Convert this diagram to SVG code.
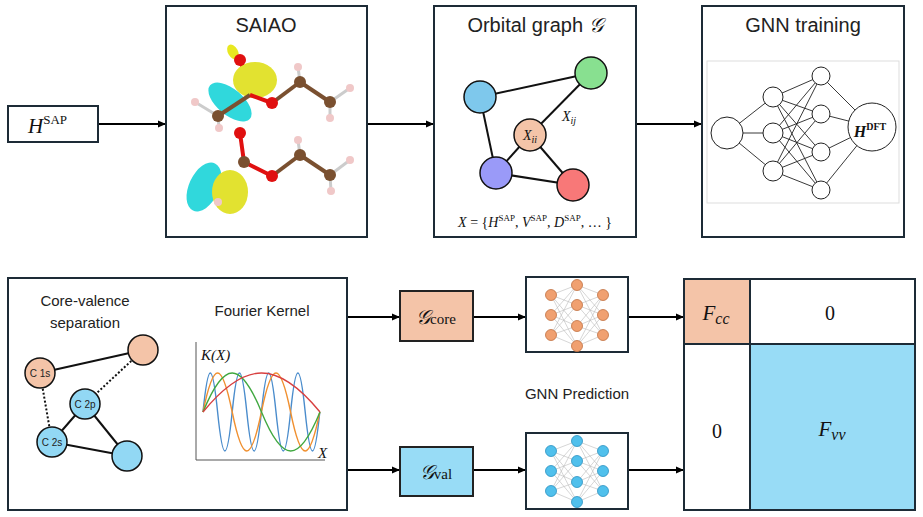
<svg xmlns="http://www.w3.org/2000/svg" width="923" height="517" viewBox="0 0 923 517">
<defs>
<marker id="ar" markerWidth="8" markerHeight="8" refX="7" refY="4" orient="auto" markerUnits="userSpaceOnUse"><path d="M0,0.5 L8,4 L0,7.5 Z" fill="#000"/></marker>
<style>
.box{fill:#fff;stroke:#1d2b36;stroke-width:2}
.t{font-family:"Liberation Sans",Arial,sans-serif;fill:#222}
.m{font-family:"Liberation Serif","Times New Roman",serif;fill:#111}
.c{stroke:#000;stroke-width:1.8;fill:none}
.e{stroke:#111;stroke-width:2}
.n{stroke:#111;stroke-width:1.5}
.nn{stroke:#222;stroke-width:1;fill:#fff}
.nl{stroke:#222;stroke-width:0.9}
.sl{stroke:#bbb;stroke-width:0.6}
.H{fill:#f0c8c8}.C{fill:#7a5030}.O{fill:#e01010}
</style>
</defs>
<rect width="923" height="517" fill="#fff"/>

<g id="connectors">
<line class="c" x1="98" y1="124" x2="165" y2="124" marker-end="url(#ar)"/>
<line class="c" x1="367" y1="124" x2="433" y2="124" marker-end="url(#ar)"/>
<line class="c" x1="636" y1="124" x2="701" y2="124" marker-end="url(#ar)"/>
<line class="c" x1="347" y1="317" x2="399" y2="317" marker-end="url(#ar)"/>
<line class="c" x1="347" y1="470" x2="399" y2="470" marker-end="url(#ar)"/>
<line class="c" x1="473" y1="317" x2="525" y2="317" marker-end="url(#ar)"/>
<line class="c" x1="473" y1="470" x2="525" y2="470" marker-end="url(#ar)"/>
<line class="c" x1="628" y1="317" x2="683" y2="317" marker-end="url(#ar)"/>
<line class="c" x1="628" y1="470" x2="683" y2="470" marker-end="url(#ar)"/>
</g>

<g id="hsap">
<rect class="box" x="8" y="106" width="90" height="36"/>
<text class="m" x="28" y="133" font-size="21" font-style="italic">H<tspan font-style="normal" font-size="13" dy="-9">SAP</tspan></text>
</g>

<g id="saiao">
<rect class="box" x="166" y="6" width="201" height="231"/>
<text class="t" x="266" y="32" font-size="20" text-anchor="middle">SAIAO</text>
<ellipse cx="233" cy="52" rx="5" ry="8" fill="#e8e820" transform="rotate(-30 233 52)"/>
<line x1="240" y1="60" x2="250" y2="88" stroke="#e01010" stroke-width="4"/>
<ellipse cx="255" cy="80" rx="22" ry="18" fill="#e2e230"/>
<ellipse cx="230" cy="102" rx="13" ry="26" fill="#30d8dc" transform="rotate(-50 230 102)"/>
<line x1="218" y1="116" x2="250" y2="95" stroke="#7a5030" stroke-width="4"/>
<line x1="250" y1="95" x2="272" y2="103" stroke="#e01010" stroke-width="4"/>
<line x1="272" y1="103" x2="300" y2="82" stroke="#7a5030" stroke-width="4"/>
<line x1="300" y1="82" x2="330" y2="102" stroke="#7a5030" stroke-width="4"/>
<line x1="218" y1="116" x2="195" y2="102" stroke="#ccc" stroke-width="3"/>
<line x1="218" y1="116" x2="219" y2="128" stroke="#ccc" stroke-width="3"/>
<line x1="300" y1="82" x2="298" y2="67" stroke="#ccc" stroke-width="3"/>
<line x1="330" y1="102" x2="350" y2="88" stroke="#ccc" stroke-width="3"/>
<line x1="330" y1="102" x2="330" y2="118" stroke="#ccc" stroke-width="3"/>
<circle class="O" cx="240" cy="60" r="6"/>
<circle class="O" cx="272" cy="103" r="6"/>
<circle class="C" cx="218" cy="116" r="6"/>
<circle class="C" cx="300" cy="82" r="6"/>
<circle class="C" cx="330" cy="102" r="6"/>
<circle class="H" cx="195" cy="102" r="4"/><circle class="H" cx="219" cy="128" r="4"/>
<circle class="H" cx="298" cy="67" r="4"/><circle class="H" cx="350" cy="88" r="4"/><circle class="H" cx="330" cy="118" r="4"/>
<line x1="240" y1="133" x2="244" y2="162" stroke="#e01010" stroke-width="4"/>
<line x1="244" y1="162" x2="272" y2="176" stroke="#e01010" stroke-width="4"/>
<line x1="272" y1="176" x2="300" y2="155" stroke="#7a5030" stroke-width="4"/>
<line x1="300" y1="155" x2="330" y2="175" stroke="#7a5030" stroke-width="4"/>
<line x1="300" y1="155" x2="298" y2="140" stroke="#ccc" stroke-width="3"/>
<line x1="330" y1="175" x2="350" y2="160" stroke="#ccc" stroke-width="3"/>
<line x1="330" y1="175" x2="331" y2="191" stroke="#ccc" stroke-width="3"/>
<circle class="O" cx="240" cy="133" r="6"/>
<circle class="C" cx="244" cy="162" r="6"/>
<circle class="O" cx="272" cy="176" r="6"/>
<circle class="C" cx="300" cy="155" r="6"/>
<circle class="C" cx="330" cy="175" r="6"/>
<circle class="H" cx="298" cy="140" r="4"/><circle class="H" cx="350" cy="160" r="4"/><circle class="H" cx="331" cy="191" r="4"/>
<ellipse cx="204" cy="187" rx="15" ry="26" fill="#30d8dc" transform="rotate(25 204 187)"/>
<ellipse cx="230" cy="192" rx="18" ry="22" fill="#e2e230"/>
<circle class="H" cx="218" cy="202" r="4"/>
</g>

<g id="orbital-graph">
<rect class="box" x="434" y="6" width="202" height="231"/>
<text class="t" x="535" y="32" font-size="20" text-anchor="middle">Orbital graph <tspan class="m" font-style="italic">𝒢</tspan></text>
<line class="e" x1="480" y1="97" x2="591" y2="73"/>
<line class="e" x1="480" y1="97" x2="496" y2="173"/>
<line class="e" x1="591" y1="73" x2="530" y2="135"/>
<line class="e" x1="530" y1="135" x2="496" y2="173"/>
<line class="e" x1="530" y1="135" x2="573" y2="185"/>
<line class="e" x1="496" y1="173" x2="573" y2="185"/>
<circle class="n" cx="480" cy="97" r="16" fill="#7ec8ec"/>
<circle class="n" cx="591" cy="73" r="16" fill="#88e090"/>
<circle class="n" cx="530" cy="135" r="16" fill="#f4c4a8"/>
<circle class="n" cx="496" cy="173" r="16" fill="#9a9af8"/>
<circle class="n" cx="573" cy="185" r="16" fill="#f87878"/>
<text class="m" x="530" y="140" font-size="14" font-style="italic" text-anchor="middle">X<tspan font-size="10" dy="3">ii</tspan></text>
<text class="m" x="562" y="121" font-size="14" font-style="italic">X<tspan font-size="10" dy="3">ij</tspan></text>
<text class="m" x="535" y="227" font-size="14" text-anchor="middle"><tspan font-style="italic">X</tspan> = {<tspan font-style="italic">H</tspan><tspan font-size="9" dy="-6">SAP</tspan><tspan dy="6">, </tspan><tspan font-style="italic">V</tspan><tspan font-size="9" dy="-6">SAP</tspan><tspan dy="6">, </tspan><tspan font-style="italic">D</tspan><tspan font-size="9" dy="-6">SAP</tspan><tspan dy="6">, … }</tspan></text>
</g>

<g id="gnn-training">
<rect class="box" x="702" y="6" width="202" height="231"/>
<text class="t" x="803" y="32" font-size="20" text-anchor="middle">GNN training</text>
<rect x="707" y="61" width="192" height="142" fill="#fff" stroke="#ddd" stroke-width="1"/>
<g class="nl">
<line x1="727" y1="133" x2="773" y2="97"/><line x1="727" y1="133" x2="773" y2="133"/><line x1="727" y1="133" x2="773" y2="171"/>
<line x1="773" y1="97" x2="821" y2="76"/><line x1="773" y1="97" x2="821" y2="114"/><line x1="773" y1="97" x2="821" y2="152"/><line x1="773" y1="97" x2="821" y2="190"/>
<line x1="773" y1="133" x2="821" y2="76"/><line x1="773" y1="133" x2="821" y2="114"/><line x1="773" y1="133" x2="821" y2="152"/><line x1="773" y1="133" x2="821" y2="190"/>
<line x1="773" y1="171" x2="821" y2="76"/><line x1="773" y1="171" x2="821" y2="114"/><line x1="773" y1="171" x2="821" y2="152"/><line x1="773" y1="171" x2="821" y2="190"/>
<line x1="821" y1="76" x2="872" y2="127"/><line x1="821" y1="114" x2="872" y2="127"/><line x1="821" y1="152" x2="872" y2="127"/><line x1="821" y1="190" x2="872" y2="127"/>
</g>
<circle class="nn" cx="727" cy="133" r="16"/>
<circle class="nn" cx="773" cy="97" r="10"/><circle class="nn" cx="773" cy="133" r="10"/><circle class="nn" cx="773" cy="171" r="10"/>
<circle class="nn" cx="821" cy="76" r="9"/><circle class="nn" cx="821" cy="114" r="9"/><circle class="nn" cx="821" cy="152" r="9"/><circle class="nn" cx="821" cy="190" r="9"/>
<circle class="nn" cx="872" cy="127" r="24"/>
<text class="m" x="870" y="137" font-size="16" font-weight="bold" font-style="italic" text-anchor="middle">H<tspan font-style="normal" font-size="10" dy="-7">DFT</tspan></text>
</g>

<g id="core-valence">
<rect class="box" x="8" y="278" width="339" height="232"/>
<text class="t" x="85" y="306" font-size="15" text-anchor="middle">Core-valence</text>
<text class="t" x="85" y="328" font-size="15" text-anchor="middle">separation</text>
<text class="t" x="262" y="316" font-size="15" text-anchor="middle">Fourier Kernel</text>
<line class="e" x1="40" y1="373" x2="143" y2="350"/>
<line stroke="#111" stroke-width="2" stroke-dasharray="2,2" x1="143" y1="350" x2="85" y2="404"/>
<line stroke="#111" stroke-width="2" stroke-dasharray="2,2" x1="40" y1="373" x2="52" y2="442"/>
<line class="e" x1="85" y1="404" x2="52" y2="442"/>
<line class="e" x1="85" y1="404" x2="127" y2="456"/>
<line class="e" x1="52" y1="442" x2="127" y2="456"/>
<circle class="n" cx="40" cy="373" r="15" fill="#f4c4a8"/>
<circle class="n" cx="143" cy="350" r="15" fill="#f4c4a8"/>
<circle class="n" cx="85" cy="404" r="15" fill="#92d8f4"/>
<circle class="n" cx="52" cy="442" r="15" fill="#92d8f4"/>
<circle class="n" cx="127" cy="456" r="15" fill="#92d8f4"/>
<text class="t" x="40" y="377" font-size="10" text-anchor="middle">C 1s</text>
<text class="t" x="85" y="408" font-size="10" text-anchor="middle">C 2p</text>
<text class="t" x="52" y="446" font-size="10" text-anchor="middle">C 2s</text>
<polyline points="196,342 196,460 325,460" fill="none" stroke="#555" stroke-width="1"/>
<text class="m" x="201" y="360" font-size="15" font-style="italic">K(X)</text>
<text class="m" x="318" y="458" font-size="15" font-style="italic">X</text>
<g fill="none" stroke-width="1.4">
<path stroke="#4a8ccc" d="M203,412 c5.3,-52 9.3,-52 14.6,0 c5.3,52 9.3,52 14.6,0 c5.3,-52 9.3,-52 14.6,0 c5.3,52 9.3,52 14.6,0 c5.3,-52 9.3,-52 14.6,0 c5.3,52 9.3,52 14.6,0 c5.3,-52 9.3,-52 14.6,0 c5.3,52 9.3,52 14.6,0"/>
<path stroke="#f09030" d="M203,412 c10.6,-52 18.6,-52 29.2,0 c10.6,52 18.6,52 29.2,0 c10.6,-52 18.6,-52 29.2,0 c10.6,52 18.6,52 29.2,0"/>
<path stroke="#40a840" d="M203,412 c21.3,-52 37.2,-52 58.5,0 c21.3,52 37.2,52 58.5,0"/>
<path stroke="#d84040" d="M203,412 c42.6,-52 74.4,-52 117,0"/>
</g>
</g>

<g id="g-core">
<rect x="400" y="291" width="73" height="50" fill="#f4c4a8" stroke="#222" stroke-width="2"/>
<text class="m" x="436" y="324" font-size="20" text-anchor="middle"><tspan font-style="italic">𝒢</tspan><tspan font-size="15">core</tspan></text>
</g>
<g id="g-val">
<rect x="400" y="447" width="73" height="49" fill="#98dcf6" stroke="#222" stroke-width="2"/>
<text class="m" x="436" y="479" font-size="20" text-anchor="middle"><tspan font-style="italic">𝒢</tspan><tspan font-size="15">val</tspan></text>
</g>

<g id="nn-core">
<rect class="box" x="526" y="277" width="102" height="75"/>
<g class="sl">
<path d="M551,295 L577,285 M551,295 L577,305 M551,295 L577,326 M551,295 L577,346 M551,315 L577,285 M551,315 L577,305 M551,315 L577,326 M551,315 L577,346 M551,335 L577,285 M551,335 L577,305 M551,335 L577,326 M551,335 L577,346 M603,295 L577,285 M603,295 L577,305 M603,295 L577,326 M603,295 L577,346 M603,315 L577,285 M603,315 L577,305 M603,315 L577,326 M603,315 L577,346 M603,335 L577,285 M603,335 L577,305 M603,335 L577,326 M603,335 L577,346"/>
</g>
<g fill="#f0a070" stroke="#c07040" stroke-width="0.8">
<circle cx="551" cy="295" r="5.5"/><circle cx="551" cy="315" r="5.5"/><circle cx="551" cy="335" r="5.5"/>
<circle cx="577" cy="285" r="5.5"/><circle cx="577" cy="305" r="5.5"/><circle cx="577" cy="326" r="5.5"/><circle cx="577" cy="346" r="5.5"/>
<circle cx="603" cy="295" r="5.5"/><circle cx="603" cy="315" r="5.5"/><circle cx="603" cy="335" r="5.5"/>
</g>
</g>

<text class="t" x="577" y="399" font-size="15" text-anchor="middle">GNN Prediction</text>

<g id="nn-val">
<rect class="box" x="526" y="433" width="102" height="76"/>
<g class="sl">
<path d="M551,451 L577,441 M551,451 L577,461 M551,451 L577,482 M551,451 L577,502 M551,471 L577,441 M551,471 L577,461 M551,471 L577,482 M551,471 L577,502 M551,491 L577,441 M551,491 L577,461 M551,491 L577,482 M551,491 L577,502 M603,451 L577,441 M603,451 L577,461 M603,451 L577,482 M603,451 L577,502 M603,471 L577,441 M603,471 L577,461 M603,471 L577,482 M603,471 L577,502 M603,491 L577,441 M603,491 L577,461 M603,491 L577,482 M603,491 L577,502"/>
</g>
<g fill="#50c0ec" stroke="#2a90c0" stroke-width="0.8">
<circle cx="551" cy="451" r="5.5"/><circle cx="551" cy="471" r="5.5"/><circle cx="551" cy="491" r="5.5"/>
<circle cx="577" cy="441" r="5.5"/><circle cx="577" cy="461" r="5.5"/><circle cx="577" cy="482" r="5.5"/><circle cx="577" cy="502" r="5.5"/>
<circle cx="603" cy="451" r="5.5"/><circle cx="603" cy="471" r="5.5"/><circle cx="603" cy="491" r="5.5"/>
</g>
</g>

<g id="fock-matrix">
<rect x="684" y="279" width="66" height="65" fill="#f4c4a8"/>
<rect x="750" y="344" width="165" height="166" fill="#98dcf6"/>
<g stroke="#1d2b36" stroke-width="2" fill="none">
<rect x="684" y="279" width="231" height="231"/>
<line x1="750" y1="279" x2="750" y2="510"/>
<line x1="684" y1="344" x2="915" y2="344"/>
</g>
<text class="m" x="716" y="320" font-size="21" font-style="italic" text-anchor="middle">F<tspan font-size="16" dy="4">cc</tspan></text>
<text class="m" x="830" y="320" font-size="20" text-anchor="middle">0</text>
<text class="m" x="717" y="438" font-size="20" text-anchor="middle">0</text>
<text class="m" x="832" y="436" font-size="21" font-style="italic" text-anchor="middle">F<tspan font-size="16" dy="4">vv</tspan></text>
</g>
</svg>
